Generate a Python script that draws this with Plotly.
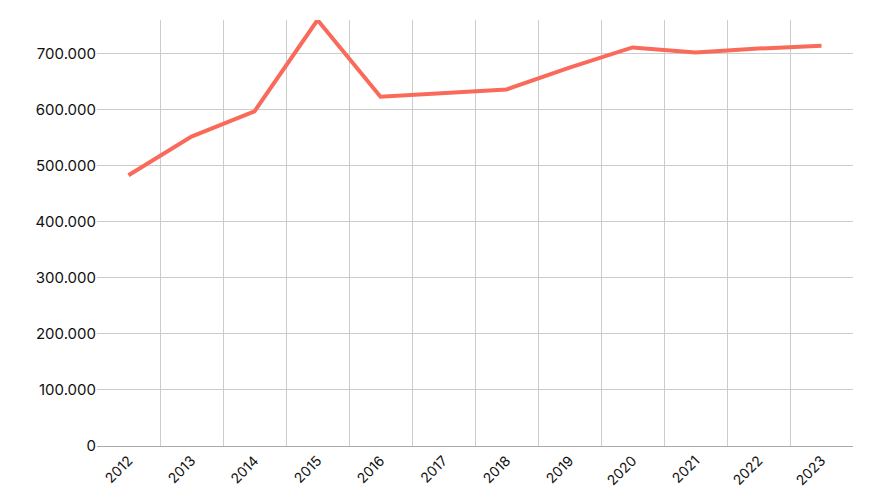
import plotly.graph_objects as go

years = ["2012", "2013", "2014", "2015", "2016", "2017", "2018", "2019", "2020", "2021", "2022", "2023"]
values = [483000, 552000, 597000, 760000, 623000, 629000, 636000, 675000, 711000, 702000, 709000, 714000]

xs = list(range(len(years)))

fig = go.Figure(go.Scatter(x=xs, y=values, mode="lines",
                           line=dict(color="#fa6a5a", width=4)))

fig.update_layout(
    width=873, height=500,
    margin=dict(l=89, r=28, t=12, b=62),
    plot_bgcolor="white", paper_bgcolor="white",
    font=dict(family="Inter", size=15, color="#111"),
    separators=",.",
    showlegend=False,
)
fig.update_xaxes(
    range=[-0.5, 11.5], tickvals=xs, ticktext=years, tickangle=-45,
    showgrid=False, zeroline=False, ticks="",
    showline=True, linecolor="#aaa",
    minor=dict(tick0=0.5, dtick=1, showgrid=True, gridcolor="#ccc"),
    tickfont=dict(size=14),
)
fig.update_yaxes(
    range=[0, 760000], dtick=100000, tickformat=",d",
    gridcolor="#ccc", zeroline=False, ticks="",
)
fig.write_html("out.html")
